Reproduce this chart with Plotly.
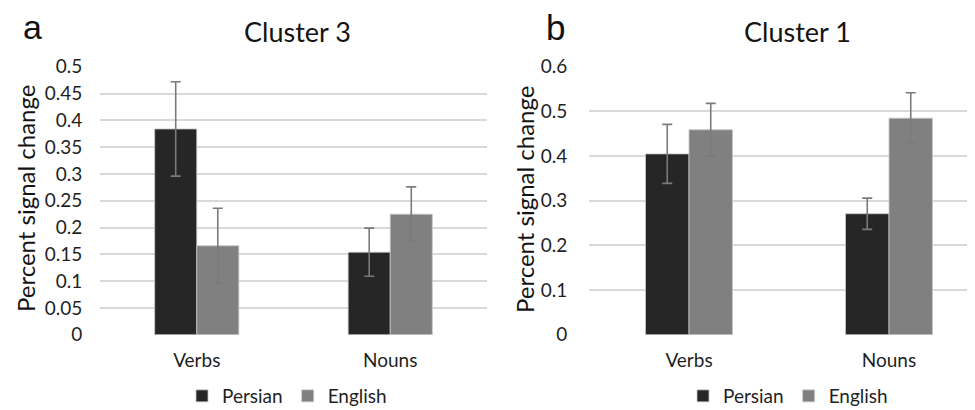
import plotly.graph_objects as go

categories = ["Verbs", "Nouns"]
series_names = ["Persian", "English"]

# Panel a: Cluster 3
c3_persian = [0.384, 0.154]
c3_persian_err = [0.088, 0.045]
c3_english = [0.166, 0.225]
c3_english_err = [0.070, 0.051]

# Panel b: Cluster 1
c1_persian = [0.405, 0.271]
c1_persian_err = [0.066, 0.035]
c1_english = [0.459, 0.485]
c1_english_err = [0.059, 0.057]

y_ticks_a = [0, 0.05, 0.1, 0.15, 0.2, 0.25, 0.3, 0.35, 0.4, 0.45, 0.5]
y_ticks_b = [0, 0.1, 0.2, 0.3, 0.4, 0.5, 0.6]

colors = {"Persian": "#262626", "English": "#808080"}
FONT = "Lato"
TXT = "#1f1f1f"
W, H = 975, 410
OFF = 8  # page body margin offset


def px(x):
    return (x - OFF) / W


def py(y):
    return (H - (y - OFF)) / H


fig = go.Figure()


def add_bars(vals, errs, name, xa, ya, legend):
    fig.add_trace(go.Bar(
        x=categories, y=vals, name=name, xaxis=xa, yaxis=ya, legend=legend,
        marker=dict(color=colors[name], line=dict(color="#c8c8c8", width=0.8)),
        error_y=dict(type="data", array=errs, visible=True, color="#7a7a7a",
                     thickness=1.6, width=5),
    ))


add_bars(c3_persian, c3_persian_err, "Persian", "x", "y", "legend")
add_bars(c3_english, c3_english_err, "English", "x", "y", "legend")
add_bars(c1_persian, c1_persian_err, "Persian", "x2", "y2", "legend2")
add_bars(c1_english, c1_english_err, "English", "x2", "y2", "legend2")

ydom = [py(335), py(66)]
tickfont = dict(family=FONT, size=19, color=TXT)

common_y = dict(showgrid=True, gridcolor="#d9d9d9", gridwidth=1.6, zeroline=False,
                showline=False, ticks="outside", tickcolor="rgba(0,0,0,0)",
                tickfont=tickfont, domain=ydom, automargin=False)
common_x = dict(showgrid=False, zeroline=False, showline=False, ticks="outside",
                ticklen=8, tickcolor="rgba(0,0,0,0)", tickfont=tickfont,
                type="category", automargin=False)

legfont = dict(family=FONT, size=19, color=TXT)

fig.update_layout(
    width=W, height=H, margin=dict(l=0, r=0, t=0, b=0, autoexpand=False),
    paper_bgcolor="white", plot_bgcolor="white",
    barmode="group", bargap=0.565, bargroupgap=0,
    font=dict(family=FONT, color=TXT),
    xaxis=dict(common_x, domain=[px(100), px(487)], range=[-0.5, 1.5], anchor="y"),
    yaxis=dict(common_y, range=[-0.0005, 0.5015], tickvals=y_ticks_a, ticklen=13,
               ticktext=[f"{v:g}" for v in y_ticks_a], anchor="x"),
    xaxis2=dict(common_x, domain=[px(589), 1.0],
                range=[-0.5, -0.5 + (W + OFF - 589) / 200.0], anchor="y2"),
    yaxis2=dict(common_y, range=[-0.0006, 0.6018], tickvals=y_ticks_b, ticklen=17,
                ticktext=[f"{v:g}" for v in y_ticks_b], anchor="x2"),
    legend=dict(orientation="h", x=px(287), xanchor="center", y=py(396),
                yanchor="middle", font=legfont, itemwidth=30, tracegroupgap=0,
                bgcolor="rgba(0,0,0,0)"),
    legend2=dict(orientation="h", x=px(788), xanchor="center", y=py(396),
                 yanchor="middle", font=legfont, itemwidth=30, tracegroupgap=0,
                 bgcolor="rgba(0,0,0,0)"),
    showlegend=True,
)

annotations = [
    dict(text="Cluster 3", x=px(297), y=py(31), font=dict(family=FONT, size=27, color="#141414")),
    dict(text="Cluster 1", x=px(797), y=py(31), font=dict(family=FONT, size=27, color="#141414")),
    dict(text="a", x=px(32), y=py(26.5), font=dict(family="Liberation Sans", size=34, color="#111111")),
    dict(text="b", x=px(555), y=py(27), font=dict(family="Liberation Sans", size=35, color="#111111")),
    dict(text="Percent signal change", x=px(25), y=py(199), textangle=-90,
         font=dict(family=FONT, size=24, color="#141414")),
    dict(text="Percent signal change", x=px(524), y=py(200), textangle=-90,
         font=dict(family=FONT, size=24, color="#141414")),
]
for a in annotations:
    a.update(xref="paper", yref="paper", showarrow=False, xanchor="center", yanchor="middle")
fig.update_layout(annotations=annotations)

fig.write_html("out.html")
